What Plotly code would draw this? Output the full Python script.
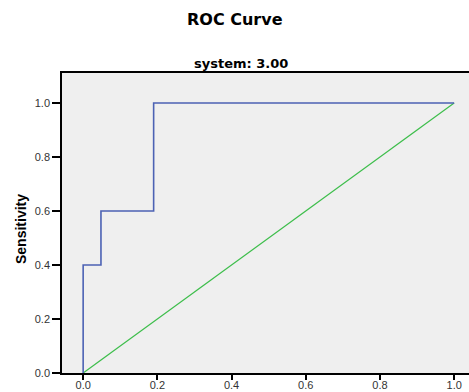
import plotly.graph_objects as go

# ROC curve for system 3.00 (step curve) and the chance diagonal
fpr = [0.0, 0.0, 0.048, 0.048, 0.190, 0.190, 1.0]
tpr = [0.0, 0.4, 0.4, 0.6, 0.6, 1.0, 1.0]
ref_x = [0.0, 1.0]
ref_y = [0.0, 1.0]
tick_vals = [0.0, 0.2, 0.4, 0.6, 0.8, 1.0]
tick_text = ["0.0", "0.2", "0.4", "0.6", "0.8", "1.0"]

W, H = 469, 392
L, R, T, B = 62, 0, 73, 19

fig = go.Figure()
fig.add_trace(go.Scatter(x=ref_x, y=ref_y, mode="lines",
                         line=dict(color="#3DBE4B", width=1.2),
                         hoverinfo="skip", showlegend=False))
fig.add_trace(go.Scatter(x=fpr, y=tpr, mode="lines",
                         line=dict(color="#4C62B4", width=1.6),
                         showlegend=False))

font_family = "Liberation Sans, Arial, sans-serif"
title_family = "DejaVu Sans, Liberation Sans, sans-serif"

fig.update_layout(
    width=W, height=H,
    margin=dict(l=L, r=R, t=T, b=B, pad=0, autoexpand=False),
    paper_bgcolor="white",
    plot_bgcolor="#EFEFEF",
    font=dict(family=font_family, size=11, color="#333333"),
    xaxis=dict(range=[-0.057, 1.04], tickvals=tick_vals, ticktext=tick_text,
               showgrid=False, zeroline=False, showline=True, linecolor="black",
               linewidth=1.5, mirror=True, ticks="outside", ticklen=5,
               tickcolor="black", tickwidth=1.5, ticklabelstandoff=-4,
               automargin=False,
               tickfont=dict(size=11, color="#333333")),
    yaxis=dict(range=[0.0, 1.111], tickvals=tick_vals, ticktext=tick_text,
               showgrid=False, zeroline=False, showline=True, linecolor="black",
               linewidth=1.5, mirror=False, ticks="outside", ticklen=8,
               tickcolor="black", tickwidth=1.5,
               automargin=False,
               tickfont=dict(size=11, color="#333333")),
    annotations=[
        dict(text="<b>ROC Curve</b>", xref="paper", yref="paper",
             x=(235 - L) / (W - L - R), y=1 + (T - 20) / (H - T - B),
             xanchor="center", yanchor="middle", showarrow=False,
             font=dict(size=16, color="black", family=title_family)),
        dict(text="<b>system: 3.00</b>", xref="paper", yref="paper",
             x=(241 - L) / (W - L - R), y=1 + (T - 64) / (H - T - B),
             xanchor="center", yanchor="middle", showarrow=False,
             font=dict(size=13, color="black", family=title_family)),
        dict(text="<b>Sensitivity</b>", xref="paper", yref="paper",
             x=(21 - L) / (W - L - R), y=1 - (229 - T) / (H - T - B),
             xanchor="center", yanchor="middle", showarrow=False, textangle=-90,
             font=dict(size=14, color="black", family=font_family)),
    ],
)

fig.write_html("out.html")
